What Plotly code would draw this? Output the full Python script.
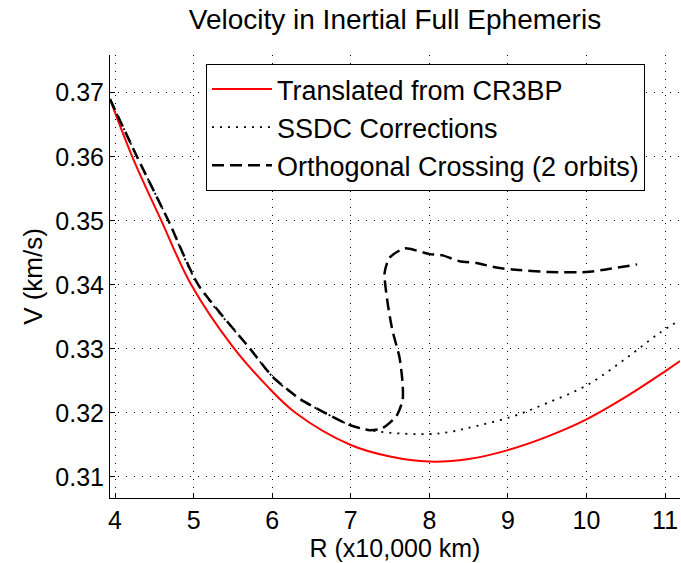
import plotly.graph_objects as go

# --- data ---
red_x = [3.936, 4.22, 4.59, 4.97, 5.50, 5.927, 6.30, 7.00, 7.50, 8.00, 8.50, 9.00, 9.50, 10.00, 10.50, 11.00, 11.19]
red_y = [0.3690, 0.3600, 0.3500, 0.3400, 0.3303, 0.3243, 0.3200, 0.3150, 0.3132, 0.3124, 0.3128, 0.3142, 0.3163, 0.3190, 0.3225, 0.3265, 0.3281]

ssdc_x = [3.936, 4.28, 4.68, 5.06, 5.72, 6.01, 6.35, 6.69, 6.99, 7.20, 7.50, 8.00, 8.25, 8.47, 9.02, 9.49, 10.00, 10.50, 10.93, 11.19]
ssdc_y = [0.3690, 0.3600, 0.3500, 0.3400, 0.3300, 0.3256, 0.3222, 0.3199, 0.3181, 0.3174, 0.3169, 0.3167, 0.3170, 0.3176, 0.3193, 0.3215, 0.3243, 0.3285, 0.3325, 0.3345]

orth_x = [3.936, 4.28, 4.68, 5.06, 5.72, 6.01, 6.35, 6.69, 6.99, 7.24, 7.40, 7.58, 7.66, 7.66, 7.62, 7.53, 7.47, 7.43, 7.49, 7.685, 8.003, 8.168, 8.384, 8.60, 8.854, 9.057, 9.527, 9.997, 10.25, 10.645]
orth_y = [0.3690, 0.3600, 0.3500, 0.3400, 0.3300, 0.3256, 0.3222, 0.3199, 0.3181, 0.3173, 0.3176, 0.3195, 0.3220, 0.3246, 0.3287, 0.3329, 0.3371, 0.3418, 0.3442, 0.3457, 0.3448, 0.3446, 0.3437, 0.3434, 0.3427, 0.3424, 0.3420, 0.3420, 0.3424, 0.3432]

x_ticks = [4, 5, 6, 7, 8, 9, 10, 11]
y_ticks = [0.31, 0.32, 0.33, 0.34, 0.35, 0.36, 0.37]
y_tick_text = ["0.31", "0.32", "0.33", "0.34", "0.35", "0.36", "0.37"]

FONT = "Liberation Sans, Arial, sans-serif"

fig = go.Figure()
fig.add_trace(go.Scatter(x=red_x, y=red_y, mode="lines", name="Translated from CR3BP",
                         line=dict(color="#ff0000", width=2, shape="spline", smoothing=1.0)))
fig.add_trace(go.Scatter(x=ssdc_x, y=ssdc_y, mode="lines", name="SSDC Corrections",
                         line=dict(color="#000000", width=1.8, dash="2px,6px", shape="spline", smoothing=1.0)))
fig.add_trace(go.Scatter(x=orth_x, y=orth_y, mode="lines", name="Orthogonal Crossing (2 orbits)",
                         line=dict(color="#000000", width=2.5, dash="12px,6px", shape="spline", smoothing=0.6)))

grid = dict(showgrid=True, gridcolor="#000000", gridwidth=1, griddash="1px,7px",
            zeroline=False, showline=True, linecolor="#000000", linewidth=1,
            ticks="inside", ticklen=5, tickcolor="#000000", mirror=False,
            tickfont=dict(family=FONT, size=25, color="#000000"))

fig.update_xaxes(range=[3.936, 11.19], tickvals=x_ticks,
                 title=dict(text="R (x10,000 km)", font=dict(family=FONT, size=25, color="#000000"), standoff=5),
                 **grid)
fig.update_yaxes(range=[0.30672, 0.37589], tickvals=y_ticks, ticktext=y_tick_text,
                 title=dict(text="V (km/s)", font=dict(family=FONT, size=26, color="#000000"), standoff=5),
                 **grid)

fig.update_layout(
    width=681, height=563,
    margin=dict(l=110, r=1, t=55, b=65),
    paper_bgcolor="#ffffff", plot_bgcolor="#ffffff",
    title=dict(text="Velocity in Inertial Full Ephemeris", x=0.58, xanchor="center",
               y=1 - 19 / 563, yanchor="middle", yref="container",
               font=dict(family=FONT, size=28, color="#000000")),
    legend=dict(x=0.1684, y=0.9797, xanchor="left", yanchor="top",
                bordercolor="#000000", borderwidth=1, bgcolor="#ffffff",
                font=dict(family=FONT, size=27, color="#000000"),
                itemwidth=60),
    showlegend=True,
)

fig.write_html("out.html")
